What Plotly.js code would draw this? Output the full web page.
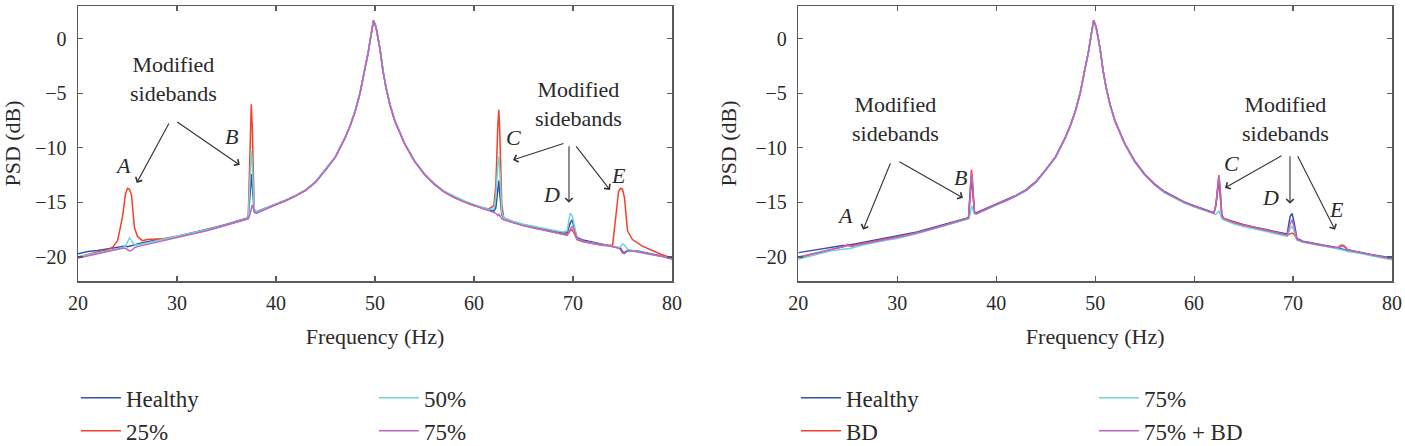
<!DOCTYPE html>
<html>
<head>
<meta charset="utf-8">
<script src="https://cdn.plot.ly/plotly-3.0.1.min.js"></script>
<style>html,body{margin:0;padding:0;background:#fff;}#chart{width:1405px;height:446px;}</style>
</head>
<body>
<div id="chart"></div>
<script>
// Shared frequency grid (Hz)
const freq = [
  20, 21, 22, 23, 23.5, 24, 24.5, 24.8, 25, 25.2,
  25.4, 25.7, 26, 26.5, 27, 28, 29, 30, 31, 32,
  33, 34, 35, 36, 37, 37.2, 37.4, 37.5, 37.6, 37.8,
  38, 39, 40, 41, 42, 43, 44, 45, 46, 47,
  47.5, 48, 48.5, 49, 49.3, 49.6, 49.85, 50.1, 50.3, 50.5,
  50.8, 51.1, 51.5, 52, 53, 54, 55, 56, 57, 58,
  59, 60, 61, 61.5, 62, 62.2, 62.4, 62.5, 62.6, 62.8,
  63, 64, 65, 66, 67, 68, 69, 69.4, 69.7, 69.9,
  70.1, 70.4, 71, 72, 73, 74, 74.3, 74.6, 74.8, 75,
  75.2, 75.5, 76, 76.5, 77, 78, 79, 80
];

// ---- Left panel (PSD, dB) ----
const leftNames = ["Healthy", "25%", "50%", "75%"];
const leftHealthy = [
  -19.7, -19.5, -19.4, -19.25, -19.2, -19.1, -19.0, -19.0, -19.05, -19.0,
  -18.95, -18.85, -18.8, -18.7, -18.6, -18.45, -18.3, -18.1, -17.9, -17.7,
  -17.5, -17.25, -17.0, -16.75, -16.45, -16.4, -14.0, -12.4, -13.5, -15.8,
  -15.85, -15.5, -15.15, -14.8, -14.35, -13.85, -13.1, -12.0, -10.8, -9.0,
  -7.9, -6.6, -4.9, -2.6, -1.3, 0.4, 1.7, 1.1, 0.2, -0.9,
  -2.9, -4.4, -6.0, -7.5, -9.6, -11.2, -12.4, -13.3, -14.0, -14.5,
  -14.9, -15.25, -15.55, -15.7, -15.8, -15.5, -13.8, -13.0, -14.2, -16.1,
  -16.45, -16.8, -17.05, -17.25, -17.45, -17.6, -17.8, -17.8, -16.9, -16.6,
  -17.2, -18.2, -18.45, -18.65, -18.85, -19.0, -19.05, -19.1, -19.2, -19.5,
  -19.6, -19.4, -19.4, -19.45, -19.55, -19.75, -19.9, -20.1
];
const left25 = [
  -20.0, -19.75, -19.55, -19.35, -19.1, -18.5, -16.3, -14.2, -13.7, -13.8,
  -14.3, -17.3, -18.1, -18.5, -18.4, -18.35, -18.3, -18.15, -17.95, -17.75,
  -17.55, -17.3, -17.05, -16.8, -16.5, -16.2, -9.0, -6.0, -8.0, -15.7,
  -15.9, -15.55, -15.2, -14.85, -14.4, -13.9, -13.15, -12.05, -10.85, -9.05,
  -7.95, -6.65, -4.95, -2.65, -1.35, 0.35, 1.65, 1.05, 0.15, -0.95,
  -2.95, -4.45, -6.05, -7.55, -9.65, -11.25, -12.45, -13.35, -14.05, -14.55,
  -14.95, -15.3, -15.5, -15.6, -15.3, -13.5, -8.0, -6.5, -8.5, -15.2,
  -16.4, -16.85, -17.1, -17.3, -17.5, -17.7, -17.95, -18.0, -17.6, -17.5,
  -17.8, -18.4, -18.6, -18.8, -18.95, -18.9, -16.5, -14.0, -13.7, -13.8,
  -14.6, -17.6, -18.4, -18.7, -19.0, -19.4, -19.8, -20.1
];
const left50 = [
  -20.0, -19.8, -19.6, -19.4, -19.35, -19.25, -19.15, -19.0, -18.6, -18.25,
  -18.5, -18.9, -18.9, -18.8, -18.7, -18.55, -18.35, -18.15, -17.95, -17.75,
  -17.5, -17.3, -17.05, -16.8, -16.5, -16.3, -12.5, -10.3, -11.5, -15.6,
  -15.85, -15.5, -15.15, -14.8, -14.35, -13.85, -13.1, -12.0, -10.8, -9.0,
  -7.9, -6.6, -4.9, -2.6, -1.3, 0.4, 1.7, 1.1, 0.2, -0.9,
  -2.9, -4.4, -6.0, -7.5, -9.6, -11.2, -12.4, -13.3, -14.0, -14.45,
  -14.85, -15.2, -15.5, -15.65, -15.6, -14.5, -11.5, -10.8, -12.0, -15.9,
  -16.4, -16.75, -17.0, -17.2, -17.4, -17.55, -17.7, -17.6, -16.0, -16.2,
  -17.0, -18.3, -18.55, -18.7, -18.9, -19.05, -19.1, -19.15, -19.05, -18.8,
  -18.9, -19.3, -19.4, -19.5, -19.6, -19.75, -19.95, -20.15
];
const left75 = [
  -20.1, -19.9, -19.65, -19.45, -19.4, -19.3, -19.2, -19.2, -19.35, -19.45,
  -19.4, -19.15, -19.05, -18.95, -18.85, -18.65, -18.45, -18.25, -18.05, -17.8,
  -17.6, -17.35, -17.1, -16.85, -16.6, -16.5, -16.0, -15.4, -15.2, -15.9,
  -16.0, -15.6, -15.2, -14.85, -14.4, -13.9, -13.15, -12.05, -10.85, -9.05,
  -7.95, -6.65, -4.95, -2.65, -1.35, 0.35, 1.65, 1.05, 0.15, -0.95,
  -2.95, -4.45, -6.05, -7.55, -9.65, -11.25, -12.45, -13.35, -14.05, -14.55,
  -14.95, -15.3, -15.6, -15.75, -15.9, -16.0, -16.2, -16.1, -16.2, -16.5,
  -16.6, -16.9, -17.15, -17.35, -17.55, -17.75, -17.95, -18.0, -17.5, -17.2,
  -17.5, -18.3, -18.55, -18.75, -18.9, -19.05, -19.1, -19.2, -19.35, -19.65,
  -19.7, -19.45, -19.45, -19.55, -19.65, -19.8, -19.95, -20.2
];

// ---- Right panel (PSD, dB) ----
const rightNames = ["Healthy", "BD", "75%", "75% + BD"];
const rightHealthy = [
  -19.6, -19.45, -19.3, -19.2, -19.1, -19.0, -18.95, -18.95, -18.9, -18.9,
  -18.85, -18.8, -18.75, -18.65, -18.55, -18.4, -18.25, -18.1, -17.9, -17.7,
  -17.45, -17.2, -17.0, -16.75, -16.45, -16.4, -14.0, -12.6, -13.8, -15.9,
  -15.95, -15.55, -15.15, -14.8, -14.35, -13.85, -13.1, -12.0, -10.8, -9.0,
  -7.9, -6.6, -4.9, -2.6, -1.3, 0.4, 1.7, 1.1, 0.2, -0.9,
  -2.9, -4.4, -6.0, -7.5, -9.6, -11.2, -12.4, -13.3, -14.0, -14.5,
  -14.95, -15.3, -15.65, -15.8, -15.95, -15.3, -13.5, -13.0, -14.0, -16.2,
  -16.5, -16.8, -17.05, -17.25, -17.45, -17.65, -17.85, -17.9, -16.3, -16.0,
  -16.8, -18.3, -18.55, -18.75, -18.9, -19.05, -19.1, -19.15, -19.2, -19.3,
  -19.35, -19.4, -19.45, -19.5, -19.6, -19.8, -19.95, -20.1
];
const rightBD = [
  -20.1, -19.85, -19.6, -19.4, -19.3, -19.2, -19.1, -19.0, -18.85, -18.9,
  -19.0, -18.9, -18.85, -18.75, -18.65, -18.5, -18.35, -18.2, -18.0, -17.8,
  -17.55, -17.3, -17.05, -16.8, -16.5, -16.4, -13.5, -12.0, -13.0, -15.9,
  -16.0, -15.6, -15.2, -14.85, -14.4, -13.9, -13.15, -12.05, -10.85, -9.05,
  -7.95, -6.65, -4.95, -2.65, -1.35, 0.35, 1.65, 1.05, 0.15, -0.95,
  -2.95, -4.45, -6.05, -7.55, -9.65, -11.25, -12.45, -13.35, -14.05, -14.55,
  -15.0, -15.35, -15.7, -15.85, -16.0, -15.2, -13.0, -12.5, -13.3, -16.1,
  -16.45, -16.8, -17.05, -17.25, -17.45, -17.65, -17.9, -18.0, -17.9, -17.8,
  -17.9, -18.4, -18.6, -18.8, -18.95, -19.1, -19.15, -19.1, -18.95, -18.9,
  -19.0, -19.3, -19.45, -19.55, -19.65, -19.85, -20.0, -20.15
];
const right75 = [
  -20.2, -19.95, -19.7, -19.5, -19.4, -19.35, -19.3, -19.25, -19.25, -19.2,
  -19.2, -19.1, -19.0, -18.9, -18.8, -18.6, -18.45, -18.3, -18.1, -17.85,
  -17.6, -17.35, -17.1, -16.85, -16.6, -16.5, -16.0, -15.3, -15.5, -16.0,
  -16.05, -15.65, -15.25, -14.9, -14.45, -13.95, -13.2, -12.1, -10.9, -9.1,
  -8.0, -6.7, -5.0, -2.7, -1.4, 0.3, 1.6, 1.0, 0.1, -1.0,
  -3.0, -4.5, -6.1, -7.6, -9.7, -11.3, -12.5, -13.4, -14.1, -14.6,
  -15.05, -15.4, -15.75, -15.9, -16.05, -16.1, -15.9, -15.8, -16.0, -16.5,
  -16.6, -16.95, -17.2, -17.4, -17.6, -17.8, -18.0, -18.1, -17.4, -17.2,
  -17.6, -18.45, -18.65, -18.85, -19.0, -19.15, -19.2, -19.25, -19.3, -19.35,
  -19.4, -19.5, -19.55, -19.6, -19.7, -19.9, -20.05, -20.25
];
const right75BD = [
  -20.0, -19.8, -19.55, -19.35, -19.25, -19.15, -19.05, -19.0, -18.95, -19.0,
  -19.05, -18.95, -18.9, -18.8, -18.7, -18.55, -18.4, -18.2, -18.0, -17.8,
  -17.55, -17.3, -17.05, -16.8, -16.55, -16.45, -13.6, -12.2, -13.2, -16.0,
  -16.05, -15.6, -15.2, -14.85, -14.4, -13.9, -13.15, -12.05, -10.85, -9.05,
  -7.95, -6.65, -4.95, -2.65, -1.35, 0.35, 1.65, 1.05, 0.15, -0.95,
  -2.95, -4.45, -6.05, -7.55, -9.65, -11.25, -12.45, -13.35, -14.05, -14.55,
  -15.0, -15.35, -15.7, -15.85, -16.0, -15.3, -13.1, -12.6, -13.4, -16.2,
  -16.5, -16.85, -17.1, -17.3, -17.5, -17.7, -17.95, -18.0, -17.0, -16.6,
  -17.2, -18.4, -18.6, -18.8, -18.95, -19.1, -19.15, -19.15, -19.05, -19.0,
  -19.1, -19.35, -19.45, -19.55, -19.65, -19.85, -20.0, -20.15
];

const xTicks = [20, 30, 40, 50, 60, 70, 80];
const yTicks = [0, -5, -10, -15, -20];
const xTitle = "Frequency (Hz)";
const yTitle = "PSD (dB)";
const annoText = "Modified<br>sidebands";

const colors = ["#3450a8", "#f2402c", "#6fd5d8", "#bd66c4"];
const FONT = "Liberation Serif";
const TXT = "#2a2a2a";
const AX = "#5a5a5a";

const leftSeries = [leftHealthy, left25, left50, left75];
const rightSeries = [rightHealthy, rightBD, right75, right75BD];
const legendIds = [["legend", "legend", "legend2", "legend2"], ["legend3", "legend3", "legend4", "legend4"]];

const traces = [];
leftSeries.forEach((ys, i) => traces.push({
  x: freq, y: ys, type: "scatter", mode: "lines", name: leftNames[i],
  xaxis: "x", yaxis: "y", legend: legendIds[0][i], showlegend: true,
  line: {color: colors[i], width: 1.5}
}));
rightSeries.forEach((ys, i) => traces.push({
  x: freq, y: ys, type: "scatter", mode: "lines", name: rightNames[i],
  xaxis: "x2", yaxis: "y2", legend: legendIds[1][i], showlegend: true,
  line: {color: colors[i], width: 1.5}
}));

function xAxis(domain, anchor) {
  return {
    domain: domain, anchor: anchor, range: [20, 80], tickvals: xTicks,
    ticks: "inside", ticklen: 5, tickwidth: 1.2, tickcolor: AX,
    showline: true, linecolor: AX, linewidth: 1.5, mirror: "allticks",
    showgrid: false, zeroline: false, automargin: true, ticklabelstandoff: 3,
    tickfont: {family: FONT, size: 20, color: TXT},
    title: {text: xTitle, font: {family: FONT, size: 22, color: TXT}, standoff: 16}
  };
}
function yAxis(anchor) {
  return {
    anchor: anchor, range: [-22.2, 3], tickvals: yTicks,
    ticks: "inside", ticklen: 5, tickwidth: 1.2, tickcolor: AX,
    showline: true, linecolor: AX, linewidth: 1.5, mirror: "allticks",
    showgrid: false, zeroline: false, automargin: true, ticklabelstandoff: 6,
    tickfont: {family: FONT, size: 20, color: TXT},
    title: {text: yTitle, font: {family: FONT, size: 22, color: TXT}, standoff: 13}
  };
}

function legendAt(x) {
  return {
    x: x, y: -0.347, xanchor: "left", yanchor: "top", orientation: "v",
    font: {family: FONT, size: 23, color: TXT}, bgcolor: "rgba(0,0,0,0)",
    itemwidth: 40, tracegroupgap: 0
  };
}

const anns = [];
function txt(xr, yr, x, y, t, italic) {
  anns.push({xref: xr, yref: yr, x: x, y: y, text: italic ? "<i>" + t + "</i>" : t,
    showarrow: false, font: {family: FONT, size: 22, color: TXT}, align: "center"});
}
function arrow(xr, yr, x, y, ax, ay) {
  anns.push({xref: xr, yref: yr, x: x, y: y, ax: ax, ay: ay, text: "",
    showarrow: true, arrowhead: 4, arrowsize: 1.3, arrowwidth: 1.1, arrowcolor: "#333"});
}
// Left panel annotations
txt("x", "y", 29.67, -3.72, annoText, false);
arrow("x", "y", 25.93, -13.21, 33, -61);
arrow("x", "y", 36.34, -11.57, -64, -44);
txt("x", "y", 24.53, -11.66, "A", true);
txt("x", "y", 35.53, -8.93, "B", true);
txt("x", "y", 70.6, -6.0, annoText, false);
arrow("x", "y", 63.93, -11.11, 52, -17);
arrow("x", "y", 69.59, -15.04, 0, -58);
arrow("x", "y", 73.73, -13.85, -35, -45);
txt("x", "y", 64.03, -9.01, "C", true);
txt("x", "y", 67.86, -14.31, "D", true);
txt("x", "y", 74.64, -12.57, "E", true);
// Right panel annotations
txt("x2", "y2", 29.87, -7.37, annoText, false);
arrow("x2", "y2", 26.54, -17.51, 28, -68);
arrow("x2", "y2", 36.64, -14.58, -65, -37);
txt("x2", "y2", 24.72, -16.23, "A", true);
txt("x2", "y2", 36.34, -12.67, "B", true);
txt("x2", "y2", 69.19, -7.37, annoText, false);
arrow("x2", "y2", 63.12, -13.67, 58, -33);
arrow("x2", "y2", 69.69, -15.13, 0, -49);
arrow("x2", "y2", 74.24, -17.51, -38, -75);
txt("x2", "y2", 63.74, -11.39, "C", true);
txt("x2", "y2", 67.69, -14.59, "D", true);
txt("x2", "y2", 74.44, -15.68, "E", true);

const layout = {
  width: 1405, height: 446,
  margin: {l: 78, r: 13, t: 6, b: 165, autoexpand: false},
  paper_bgcolor: "#fff", plot_bgcolor: "#fff",
  font: {family: FONT, color: TXT},
  showlegend: true,
  xaxis: xAxis([0, 0.4521], "y"),
  yaxis: yAxis("x"),
  xaxis2: xAxis([0.5482, 1], "y2"),
  yaxis2: yAxis("x2"),
  legend: legendAt(-0.0016),
  legend2: legendAt(0.2252),
  legend3: legendAt(0.5464),
  legend4: legendAt(0.7732),
  annotations: anns
};

Plotly.newPlot("chart", traces, layout, {staticPlot: true, displayModeBar: false});
</script>
</body>
</html>
